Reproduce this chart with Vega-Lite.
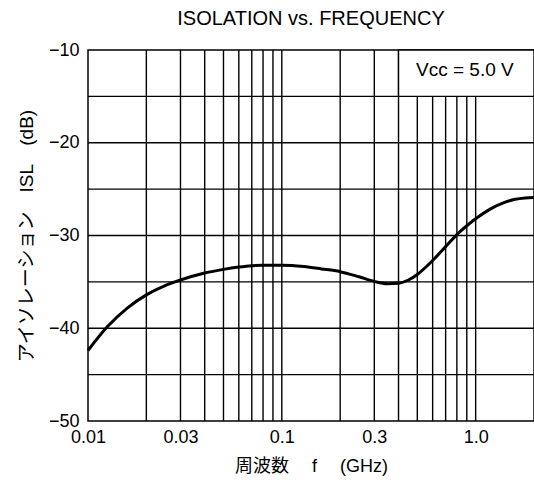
{
  "$schema": "https://vega.github.io/schema/vega-lite/v6.json",
  "width": 446,
  "height": 371,
  "autosize": "none",
  "padding": {"left": 88, "top": 50, "right": 0, "bottom": 69},
  "background": "white",
  "config": {
    "font": "'Liberation Sans', 'Noto Sans CJK JP', sans-serif",
    "view": {"stroke": "black", "strokeWidth": 1.5}
  },
  "title": {"text": "ISOLATION vs. FREQUENCY", "fontSize": 20, "fontWeight": "normal", "color": "black", "offset": 12, "anchor": "middle"},
  "datasets": {
    "curve": [
      {"f": 0.01, "isl": -42.4},
      {"f": 0.0125, "isl": -39.9},
      {"f": 0.016, "isl": -37.8},
      {"f": 0.02, "isl": -36.4},
      {"f": 0.025, "isl": -35.4},
      {"f": 0.03, "isl": -34.8},
      {"f": 0.04, "isl": -34.05},
      {"f": 0.05, "isl": -33.65},
      {"f": 0.06, "isl": -33.4},
      {"f": 0.07, "isl": -33.25},
      {"f": 0.08, "isl": -33.2},
      {"f": 0.1, "isl": -33.2},
      {"f": 0.13, "isl": -33.35},
      {"f": 0.16, "isl": -33.6},
      {"f": 0.2, "isl": -33.9},
      {"f": 0.25, "isl": -34.45},
      {"f": 0.3, "isl": -34.95},
      {"f": 0.35, "isl": -35.2},
      {"f": 0.4, "isl": -35.15},
      {"f": 0.45, "isl": -34.8},
      {"f": 0.5, "isl": -34.2},
      {"f": 0.6, "isl": -32.7},
      {"f": 0.7, "isl": -31.2},
      {"f": 0.8, "isl": -29.9},
      {"f": 0.9, "isl": -28.95},
      {"f": 1.0, "isl": -28.2},
      {"f": 1.2, "isl": -27.1},
      {"f": 1.4, "isl": -26.45},
      {"f": 1.6, "isl": -26.1},
      {"f": 1.8, "isl": -25.95},
      {"f": 2.0, "isl": -25.9}
    ],
    "gridx": [
      {"f": 0.02}, {"f": 0.03}, {"f": 0.04}, {"f": 0.05}, {"f": 0.06}, {"f": 0.07}, {"f": 0.08}, {"f": 0.09},
      {"f": 0.1}, {"f": 0.2}, {"f": 0.3}, {"f": 0.4}, {"f": 0.5}, {"f": 0.6}, {"f": 0.7}, {"f": 0.8}, {"f": 0.9}, {"f": 1.0}
    ],
    "gridy": [
      {"isl": -15}, {"isl": -20}, {"isl": -25}, {"isl": -30}, {"isl": -35}, {"isl": -40}, {"isl": -45}
    ]
  },
  "layer": [
    {
      "data": {"name": "gridx"},
      "mark": {"type": "rule", "color": "black", "strokeWidth": 1.4},
      "encoding": {
        "x": {
          "field": "f", "type": "quantitative",
          "scale": {"type": "log", "domain": [0.01, 2], "nice": false},
          "axis": {
            "title": "周波数　 f　 (GHz)",
            "values": [0.01, 0.03, 0.1, 0.3, 1],
            "labelExpr": "datum.value == 1 ? '1.0' : format(datum.value, '~g')",
            "grid": false, "ticks": false, "domain": false, "labelFlush": false,
            "labelFontSize": 18, "labelPadding": 7, "labelColor": "black",
            "titleFontSize": 18, "titleFontWeight": "normal", "titleColor": "black", "titlePadding": 11
          }
        }
      }
    },
    {
      "data": {"name": "gridy"},
      "mark": {"type": "rule", "color": "black", "strokeWidth": 1.4},
      "encoding": {
        "y": {
          "field": "isl", "type": "quantitative",
          "scale": {"domain": [-50, -10], "nice": false},
          "axis": {
            "title": "アイソレーション　ISL　(dB)",
            "values": [-10, -20, -30, -40, -50],
            "grid": false, "ticks": false, "domain": false,
            "labelFontSize": 18, "labelPadding": 9, "labelColor": "black",
            "titleFontSize": 19, "titleFontWeight": "normal", "titleColor": "black", "titlePadding": 12
          }
        }
      }
    },
    {
      "data": {"values": [{}]},
      "mark": {"type": "rect", "fill": "white", "stroke": "black", "strokeWidth": 1.4},
      "encoding": {
        "x": {"datum": 0.4, "type": "quantitative"},
        "x2": {"datum": 2},
        "y": {"datum": -15, "type": "quantitative"},
        "y2": {"datum": -10}
      }
    },
    {
      "data": {"values": [{}]},
      "mark": {"type": "text", "text": "Vcc = 5.0 V", "fontSize": 19, "color": "black", "align": "center", "baseline": "middle"},
      "encoding": {
        "x": {"datum": 0.88, "type": "quantitative"},
        "y": {"datum": -12.2, "type": "quantitative"}
      }
    },
    {
      "data": {"name": "curve"},
      "mark": {"type": "line", "color": "black", "strokeWidth": 3, "interpolate": "monotone"},
      "encoding": {
        "x": {"field": "f", "type": "quantitative"},
        "y": {"field": "isl", "type": "quantitative"}
      }
    }
  ]
}
